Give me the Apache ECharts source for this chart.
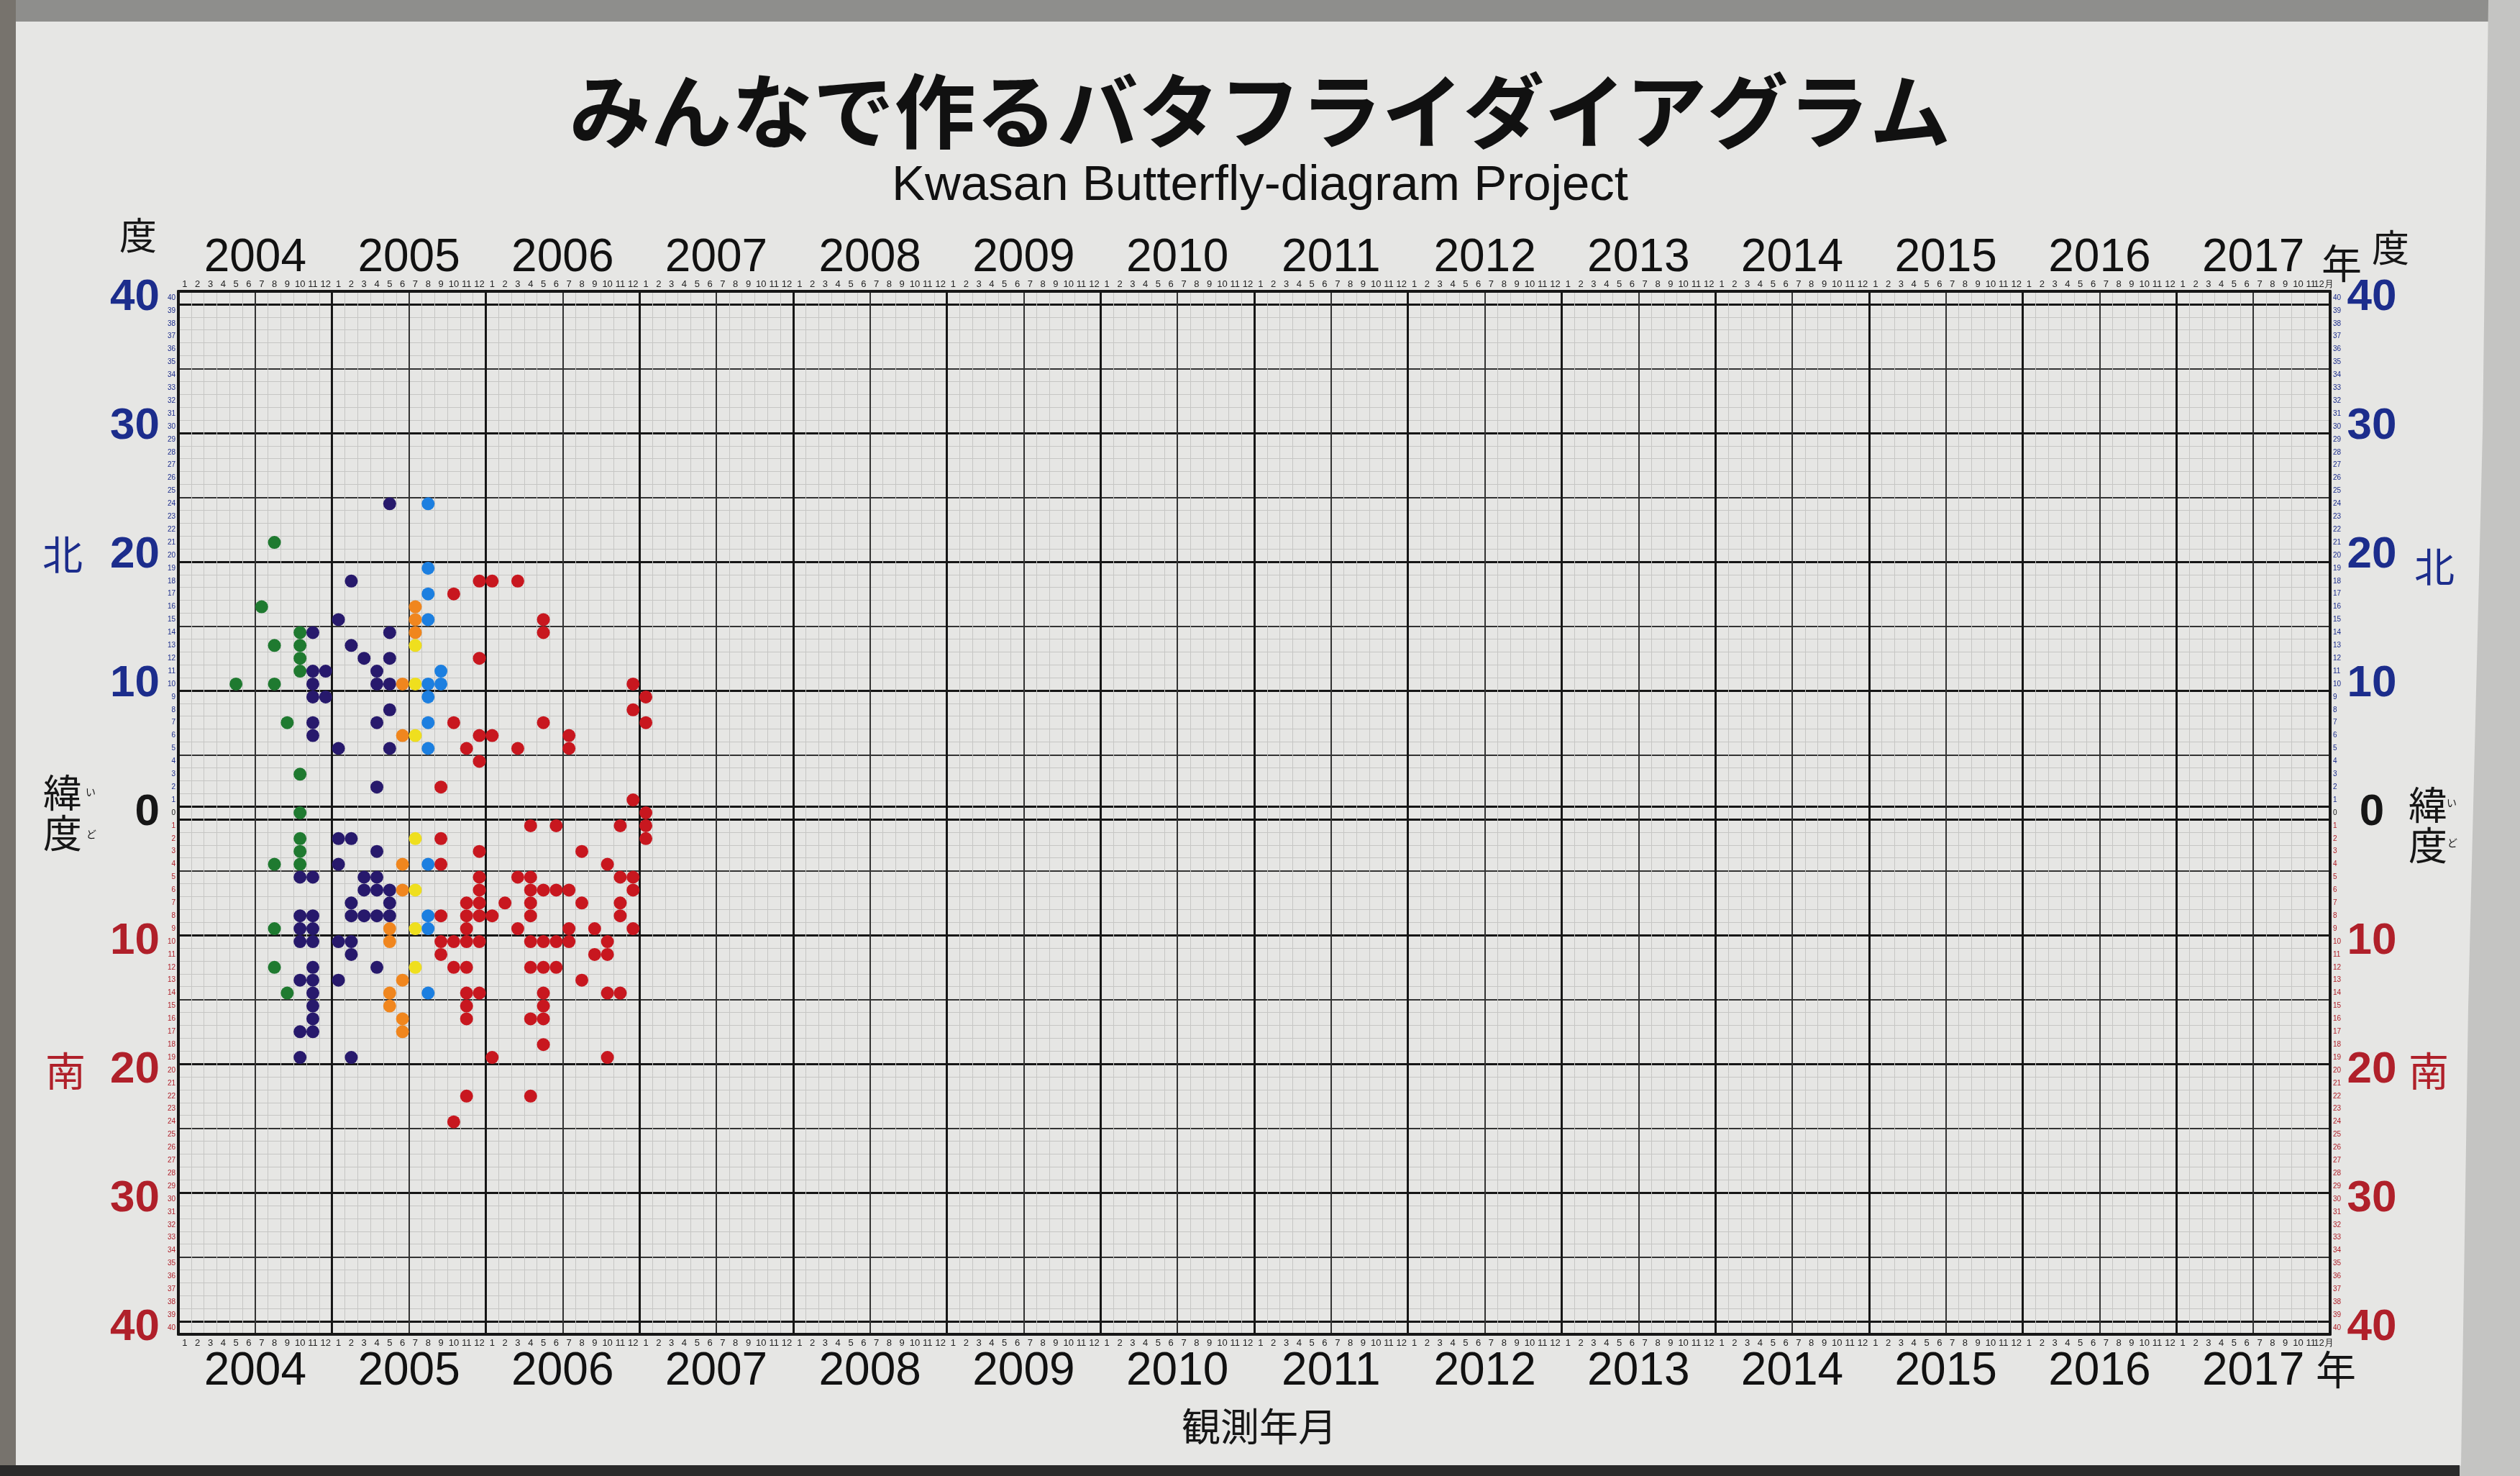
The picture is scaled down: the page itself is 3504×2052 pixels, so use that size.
<!DOCTYPE html>
<html>
<head>
<meta charset="utf-8">
<script src="https://cdn.jsdelivr.net/npm/echarts@6.0.0/dist/echarts.min.js"></script>
<style>
html,body{margin:0;padding:0;background:#e6e6e4;}
#chart{width:3504px;height:2052px;}
</style>
</head>
<body>
<div id="chart"></div>
<script>
// ---------- tick labels / categories ----------
const years = ['2004','2005','2006','2007','2008','2009','2010','2011','2012','2013','2014','2015','2016','2017'];
const monthNums = [1,2,3,4,5,6,7,8,9,10,11,12];
const latMin = -40, latMax = 40;
const latMajorLabels = [40, 30, 20, 10, 0, -10, -20, -30, -40];

// ---------- sunspot group observations [month, latitude (N +, S -)] ----------
const greenDots = [
  ['2004-08',21],['2004-07',16],['2004-10',14],['2004-08',13],['2004-10',13],['2004-10',12],['2004-10',11],
  ['2004-05',10],['2004-08',10],['2004-09',7],['2004-10',3],['2004-10',0],
  ['2004-10',-2],['2004-10',-3],['2004-08',-4],['2004-10',-4],['2004-08',-9],['2004-08',-12],['2004-09',-14]
];
const navyDots = [
  ['2005-05',24],['2005-02',18],['2005-01',15],['2004-11',14],['2005-05',14],['2005-02',13],['2005-03',12],
  ['2005-05',12],['2004-11',11],['2004-12',11],['2005-04',11],['2004-11',10],['2005-04',10],['2005-05',10],
  ['2004-11',9],['2004-12',9],['2005-05',8],['2004-11',7],['2005-04',7],['2004-11',6],['2005-01',5],
  ['2005-05',5],['2005-04',2],
  ['2005-01',-2],['2005-02',-2],['2005-04',-3],['2005-01',-4],['2004-10',-5],['2004-11',-5],['2005-03',-5],
  ['2005-04',-5],['2005-03',-6],['2005-04',-6],['2005-05',-6],['2005-02',-7],['2005-05',-7],['2004-10',-8],
  ['2004-11',-8],['2005-02',-8],['2005-03',-8],['2005-04',-8],['2005-05',-8],['2004-10',-9],['2004-11',-9],
  ['2004-10',-10],['2004-11',-10],['2005-01',-10],['2005-02',-10],['2005-02',-11],['2004-11',-12],['2005-04',-12],
  ['2004-10',-13],['2004-11',-13],['2005-01',-13],['2004-11',-14],['2004-11',-15],['2004-11',-16],['2004-10',-17],
  ['2004-11',-17],['2004-10',-19],['2005-02',-19]
];
const orangeDots = [
  ['2005-07',16],['2005-07',15],['2005-07',14],['2005-06',10],['2005-06',6],
  ['2005-06',-4],['2005-06',-6],['2005-05',-9],['2005-05',-10],['2005-06',-13],['2005-05',-14],['2005-05',-15],
  ['2005-06',-16],['2005-06',-17]
];
const yellowDots = [
  ['2005-07',13],['2005-07',10],['2005-07',6],['2005-07',-2],['2005-07',-6],['2005-07',-9],['2005-07',-12]
];
const blueDots = [
  ['2005-08',24],['2005-08',19],['2005-08',17],['2005-08',15],['2005-09',11],['2005-08',10],['2005-09',10],
  ['2005-08',9],['2005-08',7],['2005-08',5],['2005-08',-4],['2005-08',-8],['2005-08',-9],['2005-08',-14]
];
const redDots = [
  ['2005-12',18],['2006-01',18],['2006-03',18],['2005-10',17],['2006-05',15],['2006-05',14],['2005-12',12],
  ['2006-12',10],['2007-01',9],['2006-12',8],['2007-01',7],['2005-10',7],['2006-05',7],['2005-12',6],
  ['2006-01',6],['2006-07',6],['2005-11',5],['2006-03',5],['2006-07',5],['2005-12',4],['2005-09',2],
  ['2006-12',1],['2007-01',0],
  ['2007-01',-1],['2007-01',-2],['2006-04',-1],['2006-06',-1],['2006-11',-1],['2005-09',-2],['2005-12',-3],
  ['2006-08',-3],['2005-09',-4],['2006-10',-4],['2005-12',-5],['2006-03',-5],['2006-04',-5],['2006-11',-5],
  ['2006-12',-5],['2005-12',-6],['2006-04',-6],['2006-05',-6],['2006-06',-6],['2006-07',-6],['2006-12',-6],
  ['2005-11',-7],['2005-12',-7],['2006-02',-7],['2006-04',-7],['2006-08',-7],['2006-11',-7],['2005-09',-8],
  ['2005-11',-8],['2005-12',-8],['2006-01',-8],['2006-04',-8],['2006-11',-8],['2005-11',-9],['2006-03',-9],
  ['2006-07',-9],['2006-09',-9],['2006-12',-9],['2005-09',-10],['2005-10',-10],['2005-11',-10],['2005-12',-10],
  ['2006-04',-10],['2006-05',-10],['2006-06',-10],['2006-07',-10],['2006-10',-10],['2005-09',-11],['2006-09',-11],
  ['2006-10',-11],['2005-10',-12],['2005-11',-12],['2006-04',-12],['2006-05',-12],['2006-06',-12],['2006-08',-13],
  ['2005-11',-14],['2005-12',-14],['2006-05',-14],['2006-10',-14],['2006-11',-14],['2005-11',-15],['2006-05',-15],
  ['2005-11',-16],['2006-04',-16],['2006-05',-16],['2006-05',-18],['2006-01',-19],['2006-10',-19],['2005-11',-22],
  ['2006-04',-22],['2005-10',-24]
];

// ---------- categories built from the tick arrays ----------
const monthCats = [];
years.forEach(y => monthNums.forEach(m => monthCats.push(y + '-' + String(m).padStart(2, '0'))));
const halfYearCats = [];
years.forEach(y => { halfYearCats.push(y + 'a'); halfYearCats.push(y + 'b'); });
const latCats = [];
for (let v = latMin; v <= latMax; v++) latCats.push(String(v));

// row-edge indices (edge i lies between lat rows i-1 and i)
const heavyRowEdges = [0, 1, 11, 21, 31, 40, 41, 50, 60, 70, 80];
const mediumRowEdges = [6, 16, 26, 36, 45, 55, 65, 75];

const BLUE = '#1c2d8c', RED = '#b0202a', INK = '#161616';
const latColor = v => { const n = Number(v); return n > 0 ? BLUE : (n < 0 ? RED : INK); };
const toPts = arr => arr.map(d => [monthCats.indexOf(d[0]), latCats.indexOf(String(d[1]))]);

const chart = echarts.init(document.getElementById('chart'), null, {renderer: 'canvas'});

const monthLabelFmt = (v, i) => (i === monthCats.length - 1 ? '12月' : String(Number(v.slice(5))));
const hiddenAxisBase = {
  axisLine: {show: false}, axisTick: {show: false}, axisLabel: {show: false}
};

const scatter = (name, data, color) => ({
  name, type: 'scatter', xAxisIndex: 0, yAxisIndex: 0,
  data: toPts(data), symbol: 'circle', symbolSize: 18,
  itemStyle: {color: color, opacity: 1}, z: 5
});

const option = {
  backgroundColor: '#e6e6e4',
  animation: false,
  title: {
    text: 'みんなで作るバタフライダイアグラム',
    subtext: 'Kwasan Butterfly-diagram Project',
    left: 'center', top: 92, padding: 0, itemGap: 6,
    textStyle: {fontFamily: 'Noto Sans CJK JP', fontSize: 113, fontWeight: 'bold', color: '#111', lineHeight: 124},
    subtextStyle: {fontFamily: 'Liberation Sans, Arial, sans-serif', fontSize: 69, color: '#111', lineHeight: 74}
  },
  grid: {left: 248, top: 405, width: 2992, height: 1450, containLabel: false, outerBoundsMode: 'none', show: false},
  xAxis: [
    { // months bottom, fine grid
      type: 'category', data: monthCats, position: 'bottom', boundaryGap: true,
      axisLine: {show: true, onZero: false, lineStyle: {color: INK, width: 4}},
      axisTick: {show: false},
      axisLabel: {interval: 0, fontSize: 13, color: '#222', margin: 6, fontFamily: 'Liberation Sans', formatter: monthLabelFmt},
      splitLine: {show: true, interval: 0, lineStyle: {color: '#c6c6c4', width: 1}}
    },
    { // months top
      type: 'category', data: monthCats, position: 'top', boundaryGap: true,
      axisLine: {show: true, onZero: false, lineStyle: {color: INK, width: 4}},
      axisTick: {show: false},
      axisLabel: {interval: 0, fontSize: 13, color: '#222', margin: 3, fontFamily: 'Liberation Sans', formatter: monthLabelFmt},
      splitLine: {show: false}
    },
    Object.assign({ // half-year lines
      type: 'category', data: halfYearCats, position: 'bottom', boundaryGap: true,
      splitLine: {show: true, interval: 0, lineStyle: {color: '#333', width: 2}}
    }, hiddenAxisBase),
    { // years bottom
      type: 'category', data: years, position: 'bottom', boundaryGap: true,
      axisLine: {show: false, onZero: false}, axisTick: {show: false},
      axisLabel: {interval: 0, fontSize: 64, color: '#111', margin: 20, fontFamily: 'Liberation Sans, Arial, sans-serif'},
      splitLine: {show: true, interval: 0, lineStyle: {color: INK, width: 3}}
    },
    { // years top
      type: 'category', data: years, position: 'top', boundaryGap: true,
      axisLine: {show: false, onZero: false}, axisTick: {show: false},
      axisLabel: {interval: 0, fontSize: 64, color: '#111', margin: 14, fontFamily: 'Liberation Sans, Arial, sans-serif'},
      splitLine: {show: false}
    }
  ],
  yAxis: [
    { // rows left, fine grid, small row numbers
      type: 'category', data: latCats, position: 'left', boundaryGap: true,
      axisLine: {show: true, onZero: false, lineStyle: {color: INK, width: 4}},
      axisTick: {show: false},
      axisLabel: {interval: 0, fontSize: 10, margin: 4, fontFamily: 'Liberation Sans',
        formatter: v => String(Math.abs(Number(v))), color: latColor},
      splitLine: {show: true, interval: 0, lineStyle: {color: '#c6c6c4', width: 1}}
    },
    { // rows right
      type: 'category', data: latCats, position: 'right', boundaryGap: true,
      axisLine: {show: true, onZero: false, lineStyle: {color: INK, width: 4}},
      axisTick: {show: false},
      axisLabel: {interval: 0, fontSize: 10, margin: 4, fontFamily: 'Liberation Sans',
        formatter: v => String(Math.abs(Number(v))), color: latColor},
      splitLine: {show: false}
    },
    { // big labels left
      type: 'category', data: latCats, position: 'left', boundaryGap: true,
      axisLine: {show: false, onZero: false}, axisTick: {show: false},
      axisLabel: {interval: (i, v) => latMajorLabels.indexOf(Number(v)) >= 0, fontSize: 62, fontWeight: 'bold',
        margin: 26, fontFamily: 'Liberation Sans, Arial, sans-serif',
        formatter: v => String(Math.abs(Number(v))), color: latColor},
      splitLine: {show: false}
    },
    { // big labels right
      type: 'category', data: latCats, position: 'right', boundaryGap: true,
      axisLine: {show: false, onZero: false}, axisTick: {show: false},
      axisLabel: {interval: (i, v) => latMajorLabels.indexOf(Number(v)) >= 0, fontSize: 62, fontWeight: 'bold',
        margin: 58, align: 'center', fontFamily: 'Liberation Sans, Arial, sans-serif',
        formatter: v => String(Math.abs(Number(v))), color: latColor},
      splitLine: {show: false}
    },
    Object.assign({ // 5-degree lines
      type: 'category', data: latCats, position: 'left', boundaryGap: true,
      splitLine: {show: true, interval: i => mediumRowEdges.indexOf(i) >= 0, lineStyle: {color: '#333', width: 2}}
    }, hiddenAxisBase),
    Object.assign({ // 10-degree lines and equator row
      type: 'category', data: latCats, position: 'left', boundaryGap: true,
      splitLine: {show: true, interval: i => heavyRowEdges.indexOf(i) >= 0, lineStyle: {color: INK, width: 3}}
    }, hiddenAxisBase)
  ],
  graphic: [
    // surroundings of the poster
    {type: 'rect', z: 100, shape: {x: 0, y: 0, width: 3504, height: 30}, style: {fill: '#8e8e8c'}},
    {type: 'rect', z: 100, shape: {x: 0, y: 0, width: 22, height: 2052}, style: {fill: '#77736d'}},
    {type: 'polygon', z: 100, shape: {points: [[3460, 0], [3504, 0], [3504, 2052], [3400, 2052], [3422, 2037], [3432, 1400], [3452, 600]]}, style: {fill: '#c4c4c2'}},
    {type: 'rect', z: 100, shape: {x: 0, y: 2037, width: 3420, height: 15}, style: {fill: '#2a2a2a'}},
    // axis captions
    {type: 'text', x: 192, y: 327, style: {text: '度', fontSize: 52, fontFamily: 'Noto Sans CJK JP', fill: INK, align: 'center', verticalAlign: 'middle'}},
    {type: 'text', x: 87, y: 771, style: {text: '北', fontSize: 56, fontFamily: 'Noto Sans CJK JP', fill: BLUE, align: 'center', verticalAlign: 'middle'}},
    {type: 'text', x: 87, y: 1130, style: {text: '緯\n度', fontSize: 54, lineHeight: 56, fontFamily: 'Noto Sans CJK JP', fill: INK, align: 'center', verticalAlign: 'middle'}},
    {type: 'text', x: 126, y: 1101, style: {text: 'い', fontSize: 14, fontFamily: 'Noto Sans CJK JP', fill: INK, align: 'center', verticalAlign: 'middle'}},
    {type: 'text', x: 127, y: 1160, style: {text: 'ど', fontSize: 14, fontFamily: 'Noto Sans CJK JP', fill: INK, align: 'center', verticalAlign: 'middle'}},
    {type: 'text', x: 91, y: 1489, style: {text: '南', fontSize: 56, fontFamily: 'Noto Sans CJK JP', fill: RED, align: 'center', verticalAlign: 'middle'}},
    {type: 'text', x: 3324, y: 344, style: {text: '度', fontSize: 52, fontFamily: 'Noto Sans CJK JP', fill: INK, align: 'center', verticalAlign: 'middle'}},
    {type: 'text', x: 3256, y: 366, style: {text: '年', fontSize: 56, fontFamily: 'Noto Sans CJK JP', fill: INK, align: 'center', verticalAlign: 'middle'}},
    {type: 'text', x: 3248, y: 1904, style: {text: '年', fontSize: 56, fontFamily: 'Noto Sans CJK JP', fill: INK, align: 'center', verticalAlign: 'middle'}},
    {type: 'text', x: 3385, y: 788, style: {text: '北', fontSize: 56, fontFamily: 'Noto Sans CJK JP', fill: BLUE, align: 'center', verticalAlign: 'middle'}},
    {type: 'text', x: 3376, y: 1147, style: {text: '緯\n度', fontSize: 54, lineHeight: 56, fontFamily: 'Noto Sans CJK JP', fill: INK, align: 'center', verticalAlign: 'middle'}},
    {type: 'text', x: 3409, y: 1116, style: {text: 'い', fontSize: 14, fontFamily: 'Noto Sans CJK JP', fill: INK, align: 'center', verticalAlign: 'middle'}},
    {type: 'text', x: 3410, y: 1172, style: {text: 'ど', fontSize: 14, fontFamily: 'Noto Sans CJK JP', fill: INK, align: 'center', verticalAlign: 'middle'}},
    {type: 'text', x: 3377, y: 1489, style: {text: '南', fontSize: 56, fontFamily: 'Noto Sans CJK JP', fill: RED, align: 'center', verticalAlign: 'middle'}},
    {type: 'text', x: 1751, y: 1983, style: {text: '観測年月', fontSize: 54, fontFamily: 'Noto Sans CJK JP', fill: INK, align: 'center', verticalAlign: 'middle'}}
  ],
  series: [
    scatter('green', greenDots, '#1f7a30'),
    scatter('navy', navyDots, '#27196c'),
    scatter('orange', orangeDots, '#f0861e'),
    scatter('yellow', yellowDots, '#efdf1e'),
    scatter('blue', blueDots, '#1c7fe0'),
    scatter('red', redDots, '#c8171f')
  ]
};
chart.setOption(option);
</script>
</body>
</html>
